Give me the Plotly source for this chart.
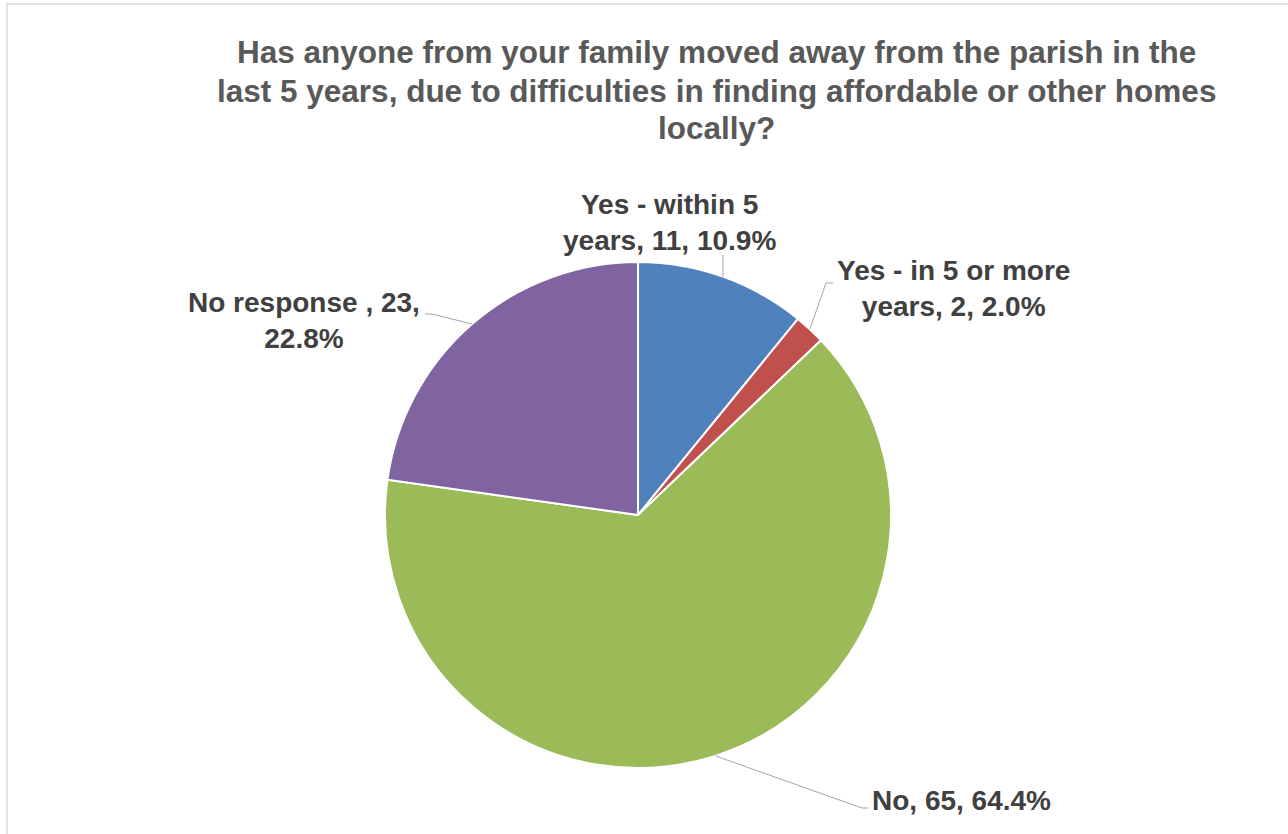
import math
import plotly.graph_objects as go

# Survey responses
categories = ["Yes - within 5 years", "Yes - in 5 or more years", "No", "No response "]
counts = [11, 2, 65, 23]
colors = ["#4F81BD", "#C0504D", "#9BBB59", "#8064A2"]

title_lines = [
    "Has anyone from your family moved away from the parish in the",
    "last 5 years, due to difficulties in finding affordable or other homes",
    "locally?",
]
title_line_y = [52, 91, 128]

W, H = 1288, 834
# pie geometry in page pixels
CX, CY, R = 638, 515, 253

# label block placement and leader elbow/end points
label_layout = [
    dict(x=669, y=222, split="Yes - within 5<br>years", elbow=None, end=(723, 255)),
    dict(x=953, y=288, split="Yes - in 5 or more<br>years", elbow=(826, 283), end=(833, 283)),
    dict(x=961, y=800, split="No", elbow=(862, 808), end=(868, 808)),
    dict(x=304, y=320, split="No response , 23,<br>", elbow=(432, 314), end=(425, 314)),
]

total = sum(counts)
font_family = "Liberation Sans, Arial, sans-serif"

fig = go.Figure()
fig.add_trace(go.Pie(
    labels=categories,
    values=counts,
    sort=False,
    direction="clockwise",
    rotation=0,
    textinfo="none",
    hoverinfo="label+value+percent",
    marker=dict(colors=colors, line=dict(color="white", width=2)),
    domain=dict(x=[(CX - R) / W, (CX + R) / W], y=[(H - CY - R) / H, (H - CY + R) / H]),
    showlegend=False,
))

annotations = []
shapes = []
cum = 0
for cat, n, lay in zip(categories, counts, label_layout):
    pct = 100 * n / total
    mid = (cum + n / 2) / total * 2 * math.pi
    cum += n
    ex = CX + R * math.sin(mid)
    ey = CY - R * math.cos(mid)
    if lay["split"].endswith("<br>"):
        text = f"{lay['split']}{pct:.1f}%"
    else:
        text = f"{lay['split']}, {n}, {pct:.1f}%"
    annotations.append(dict(
        x=lay["x"], y=lay["y"], xref="x", yref="y", text=text, showarrow=False,
        xanchor="center", yanchor="middle", align="center",
        font=dict(family=font_family, size=28, color="#404040", weight="bold"),
    ))
    pts = [(ex, ey)]
    if lay["elbow"]:
        pts.append(lay["elbow"])
    pts.append(lay["end"])
    path = "M " + " L ".join(f"{px:.1f},{py:.1f}" for px, py in pts)
    shapes.append(dict(type="path", path=path, xref="x", yref="y",
                       line=dict(color="#A6A6A6", width=1)))

# chart frame
shapes.append(dict(type="rect", xref="x", yref="y", x0=7, y0=4, x1=1300, y1=850,
                   line=dict(color="#D9D9D9", width=1.5), layer="below"))

for line, ly in zip(title_lines, title_line_y):
    annotations.append(dict(
        x=716, y=ly, xref="x", yref="y", text=line, showarrow=False,
        xanchor="center", yanchor="middle", align="center",
        font=dict(family=font_family, size=31.5, color="#595959", weight="bold"),
    ))

fig.update_layout(
    width=W, height=H,
    margin=dict(l=0, r=0, t=0, b=0),
    paper_bgcolor="white", plot_bgcolor="rgba(0,0,0,0)",
    xaxis=dict(range=[0, W], visible=False, fixedrange=True, domain=[0, 1]),
    yaxis=dict(range=[H, 0], visible=False, fixedrange=True, domain=[0, 1]),
    annotations=annotations,
    shapes=shapes,
)

fig.write_html("out.html", config={"displayModeBar": False})
